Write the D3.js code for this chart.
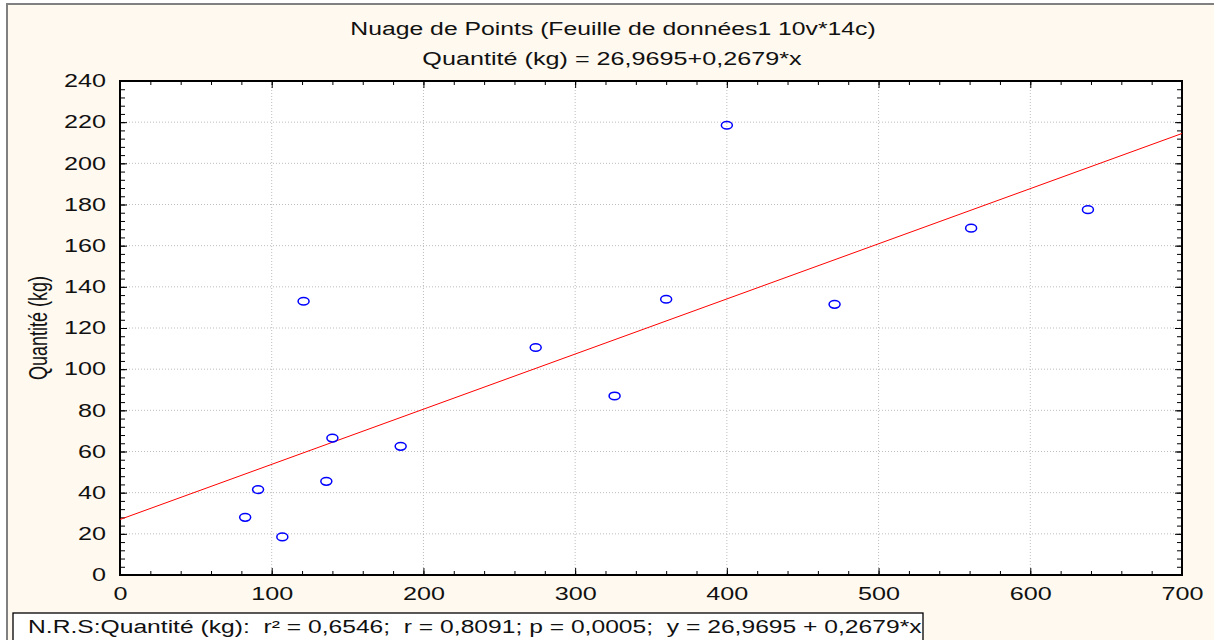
<!DOCTYPE html>
<html>
<head>
<meta charset="utf-8">
<script src="https://cdn.jsdelivr.net/npm/d3@7"></script>
<style>
  html, body { margin: 0; padding: 0; background: #fff; }
  svg { display: block; font-family: "Liberation Sans", Arial, sans-serif; }
  .tick text { font-size: 18px; fill: #111; }
</style>
</head>
<body>
<div id="viz"></div>
<script>
// data
const xValues = [82.5, 91, 107, 121, 136, 140, 185, 274, 326, 360, 400, 471, 561, 638];
const yValues = [28, 41.5, 18.5, 133, 45.5, 66.5, 62.5, 110.5, 87, 134, 218.5, 131.5, 168.5, 177.5];
const intercept = 26.9695;
const slope = 0.2679;
const xTickValues = [0, 100, 200, 300, 400, 500, 600, 700];
const yTickValues = [0, 20, 40, 60, 80, 100, 120, 140, 160, 180, 200, 220, 240];

const title = 'Nuage de Points (Feuille de données1 10v*14c)';
const subtitle = 'Quantité (kg) = 26,9695+0,2679*x';
const yLabel = 'Quantité (kg)';
const legendText = 'N.R.S:Quantité (kg):  r² = 0,6546;  r = 0,8091; p = 0,0005;  y = 26,9695 + 0,2679*x';

const points = xValues.map((x, i) => ({ x: x, y: yValues[i] }));

// the original screenshot is stretched sideways, so text is too
const stretch = 1.4;

const canvasWidth = 1214;
const canvasHeight = 640;
const margin = { top: 81, right: 32, bottom: 65, left: 120 };
const plotWidth = canvasWidth - margin.left - margin.right;
const plotHeight = canvasHeight - margin.top - margin.bottom;

const xScale = d3.scaleLinear().domain([0, 700]).range([0, plotWidth]);
const yScale = d3.scaleLinear().domain([0, 240]).range([plotHeight, 0]);

const chart = d3.select('#viz')
  .append('svg')
  .attr('width', canvasWidth)
  .attr('height', canvasHeight);

// background + outer frame
chart.append('rect')
  .attr('x', 7).attr('y', 4)
  .attr('width', canvasWidth).attr('height', canvasHeight)
  .attr('fill', '#fff9ef')
  .attr('stroke', '#808080')
  .attr('stroke-width', 2);

chart.append('text')
  .attr('transform', `translate(613, 35) scale(${stretch - 0.01}, 1)`)
  .attr('text-anchor', 'middle')
  .attr('font-size', 17.8)
  .attr('fill', '#111')
  .text(title);

chart.append('text')
  .attr('transform', `translate(612, 65) scale(${stretch}, 1)`)
  .attr('text-anchor', 'middle')
  .attr('font-size', 18)
  .attr('fill', '#111')
  .text(subtitle);

const plot = chart.append('g')
  .attr('transform', `translate(${margin.left}, ${margin.top})`);

plot.append('rect')
  .attr('width', plotWidth).attr('height', plotHeight)
  .attr('fill', '#fff');

// dotted grid
plot.append('g')
  .selectAll('line').data(xTickValues.slice(1, -1))
  .enter().append('line')
    .attr('x1', (d) => xScale(d)).attr('x2', (d) => xScale(d))
    .attr('y1', 0).attr('y2', plotHeight)
    .attr('stroke', '#bdbdbd')
    .attr('stroke-dasharray', '1,2');

plot.append('g')
  .selectAll('line').data(yTickValues.slice(1, -1))
  .enter().append('line')
    .attr('y1', (d) => yScale(d)).attr('y2', (d) => yScale(d))
    .attr('x1', 0).attr('x2', plotWidth)
    .attr('stroke', '#bdbdbd')
    .attr('stroke-dasharray', '1,2');

// minor ticks, pointing inward
const xMinor = d3.range(0, 701, 20);
const yMinor = d3.range(0, 241, 4);

function axisFrame(axis, tickSize, minor) {
  return (g) => g.call(axis.tickValues(minor).tickSize(tickSize).tickFormat(''))
    .call((g) => g.select('.domain').remove());
}

plot.append('g')
  .attr('transform', `translate(0, ${plotHeight})`)
  .call(axisFrame(d3.axisTop(xScale), 4, xMinor));
plot.append('g')
  .call(axisFrame(d3.axisBottom(xScale), 4, xMinor));
plot.append('g')
  .call(axisFrame(d3.axisRight(yScale), 5, yMinor));
plot.append('g')
  .attr('transform', `translate(${plotWidth}, 0)`)
  .call(axisFrame(d3.axisLeft(yScale), 5, yMinor));

// major tick labels
const xAxis = plot.append('g')
  .attr('id', 'x-axis')
  .attr('transform', `translate(0, ${plotHeight})`)
  .call(d3.axisBottom(xScale).tickValues(xTickValues).tickSize(0).tickFormat(d3.format('d')));
xAxis.select('.domain').remove();
xAxis.selectAll('.tick text')
  .attr('y', 25).attr('dy', 0)
  .attr('transform', `scale(${stretch}, 1)`);

const yAxis = plot.append('g')
  .attr('id', 'y-axis')
  .call(d3.axisLeft(yScale).tickValues(yTickValues).tickSize(0));
yAxis.select('.domain').remove();
yAxis.selectAll('.tick text')
  .attr('x', -14 / stretch)
  .attr('transform', `scale(${stretch}, 1)`);

// major ticks, all four sides
[[d3.axisTop(xScale), plotHeight, 0], [d3.axisBottom(xScale), 0, 0],
 [d3.axisRight(yScale), 0, 0], [d3.axisLeft(yScale), 0, plotWidth]].forEach(([ax, ty, tx], i) => {
  const vals = i < 2 ? xTickValues : yTickValues;
  const g = plot.append('g')
    .attr('transform', `translate(${tx}, ${ty})`)
    .call(ax.tickValues(vals).tickSize(7).tickFormat(''));
  g.select('.domain').remove();
});

plot.selectAll('.tick line').attr('stroke', '#000');

// plot border
plot.append('rect')
  .attr('width', plotWidth).attr('height', plotHeight)
  .attr('fill', 'none')
  .attr('stroke', '#000')
  .attr('stroke-width', 2);

// y label
chart.append('text')
  .attr('transform', `translate(47, ${margin.top + plotHeight / 2}) rotate(270) scale(1, ${stretch})`)
  .attr('text-anchor', 'middle')
  .attr('font-size', 18)
  .attr('fill', '#111')
  .text(yLabel);

// regression line
const line = d3.line()
  .x((d) => xScale(d))
  .y((d) => yScale(intercept + slope * d));

plot.append('path')
  .datum([0, 700])
  .attr('d', line)
  .attr('fill', 'none')
  .attr('stroke', '#ff0000')
  .attr('stroke-width', 1);

// points
plot.selectAll('ellipse').data(points)
  .enter().append('ellipse')
    .attr('cx', (d) => xScale(d.x))
    .attr('cy', (d) => yScale(d.y))
    .attr('rx', 5.5)
    .attr('ry', 3.8)
    .attr('fill', 'none')
    .attr('stroke', '#0000ff')
    .attr('stroke-width', 1.5);

// statistics box
chart.append('rect')
  .attr('x', 13).attr('y', 613)
  .attr('width', 910).attr('height', 40)
  .attr('fill', '#fff')
  .attr('stroke', '#000')
  .attr('stroke-width', 1.3);

chart.append('text')
  .attr('transform', `translate(28, 633) scale(${stretch}, 1)`)
  .style('white-space', 'pre')
  .attr('font-size', 17.6)
  .attr('fill', '#111')
  .text(legendText);
</script>
</body>
</html>
